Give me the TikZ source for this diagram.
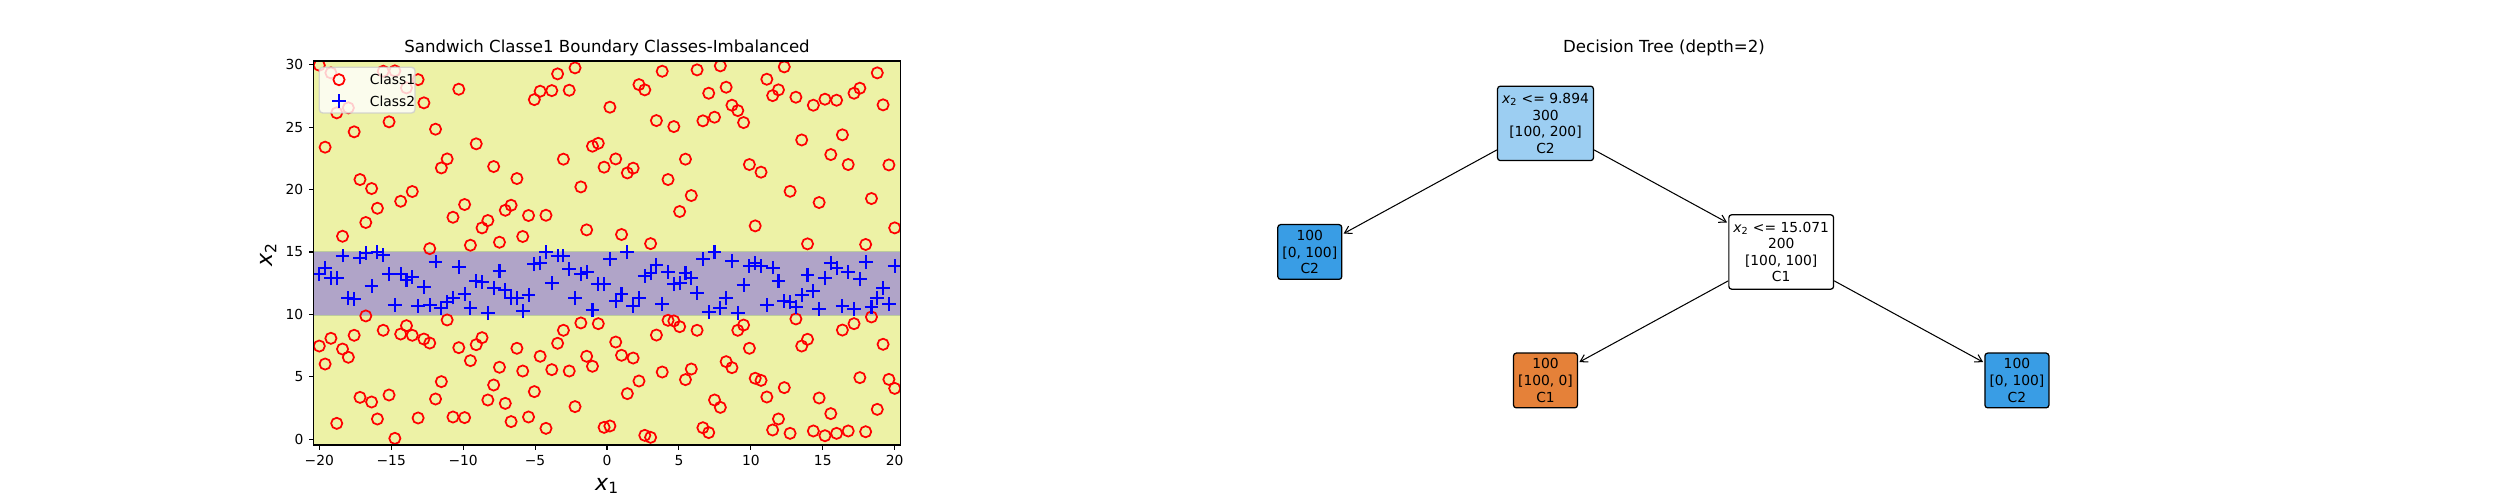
\documentclass[tikz,border=0pt]{standalone}
\usepackage{fontspec}
\setmainfont{DejaVu Sans}
\usepackage{tikz}
\usetikzlibrary{positioning,arrows.meta}
\definecolor{bgyellow}{HTML}{EDF2A6}
\definecolor{bandpurple}{HTML}{B0A4C8}
\definecolor{bandedge}{HTML}{BCCB9C}
\definecolor{rootblue}{HTML}{9CCEF2}
\definecolor{leafblue}{HTML}{399DE5}
\definecolor{leaforange}{HTML}{E58139}
\newcommand{\xsub}[1]{\textit{x}\textsubscript{#1}}
\newcommand{\tenpt}{\fontsize{10}{12}\selectfont}

\begin{document}
\begin{tikzpicture}[x=0.254mm, y=0.254mm,
    classone/.style={red, line width=1.25pt},
    classtwo/.style={blue, line width=1.5pt},
    axtick/.style={line width=0.8pt},
    ticklab/.style={inner sep=0pt, font=\tenpt},
    treebox/.style={draw, rounded corners=2pt, line width=0.9pt, align=center, inner xsep=3.3pt, font=\tenpt},
    splitnode/.style={treebox, inner ysep=5.1pt},
    leafnode/.style={treebox, inner ysep=4pt},
    treearrow/.style={-{Straight Barb[length=5pt,width=6pt]}, line width=0.75pt, shorten >=1pt}]

                    \fill[white] (0,0) rectangle (2500,500);

                    \begin{scope}[shift={(607,60.65)}, x=3.6538mm, y=3.1725mm]
                      \begin{scope}
                        \clip (-20.4,-0.45) rectangle (20.4,30.29);
                        \fill[bgyellow] (-20.4,-0.45) rectangle (20.4,30.29);
                        \fill[bandpurple] (-20.4,9.894) rectangle (20.4,15.071);
                        \draw[bandedge, line width=0.5pt] (-20.4,9.894) -- (20.4,9.894) (-20.4,15.071) -- (20.4,15.071);

                        \foreach \y [count=\i from 0] in {7.47,6.03,8.09,1.28,7.23,6.57,8.33,3.36,9.88,2.99,1.63,8.73,3.55,0.08,8.43,9.1,8.33,1.71,8.03,7.71,3.23,4.62,9.56,1.79,7.34,1.74,6.3,7.58,8.14,3.15,4.35,5.77,2.88,1.42,7.29,5.47,1.79,3.82,6.65,0.88,5.58,7.69,8.73,5.47,2.62,9.32,6.65,5.85,9.26,0.96,1.07,7.79,6.73,3.66,6.51,4.67,0.32,0.16,8.35,5.39,9.53,9.48,9.02,4.78,5.63,8.73,0.93,0.54,3.15,2.56,6.22,5.74,8.73,9.15,7.29,4.89,4.72,3.39,0.75,1.63,4.14,0.48,9.64,7.47,8.01,0.67,3.31,0.29,2.06,0.48,8.75,0.67,9.26,4.94,0.61,9.8,2.4,7.61,4.8,4.08}
                          \draw[classone] ({-20+40*\i/99},\y) circle[radius=1.42mm];

                        \foreach \y [count=\i from 0] in {29.95,23.39,29.34,26.14,16.26,26.54,24.62,20.8,17.36,20.08,18.5,29.47,25.42,29.5,19.06,28.14,19.84,28.8,26.94,15.27,24.83,21.73,22.45,17.78,28.03,18.8,15.54,23.66,16.93,17.52,21.84,15.78,18.34,18.74,20.88,16.24,17.92,27.2,27.87,17.94,27.92,29.26,22.43,27.95,29.74,20.21,16.77,23.47,23.7,21.79,26.59,22.45,16.4,21.33,21.71,28.4,27.98,15.67,25.52,29.47,20.8,25.04,18.24,22.43,19.52,29.58,25.5,27.71,25.79,29.9,28.19,26.75,26.32,25.36,22.0,17.09,21.39,28.83,27.52,27.98,29.82,19.86,27.39,23.97,15.65,26.75,18.96,27.23,22.8,27.15,24.38,22.0,27.71,28.11,15.6,19.28,29.34,26.78,21.97,16.93}
                          \draw[classone] ({-20+40*\i/99},\y) circle[radius=1.42mm];

                        \foreach \y [count=\i from 0] in {13.21,13.69,12.89,12.89,14.71,11.29,11.24,14.55,14.95,12.3,14.97,14.76,13.21,10.76,13.21,12.76,13.0,10.7,12.2,10.76,14.23,10.54,10.97,11.35,13.77,11.61,10.49,12.68,12.57,10.09,12.09,13.5,11.96,11.29,11.29,10.28,11.56,14.01,14.09,14.97,12.49,14.71,14.71,13.64,11.29,13.21,13.42,10.36,12.41,12.41,14.44,11.08,11.61,14.97,10.68,11.29,13.1,13.3,13.96,10.81,13.42,12.41,12.49,13.29,12.89,11.74,14.44,10.22,14.97,10.54,11.29,14.28,10.14,12.36,13.9,14.09,13.9,10.76,13.75,12.68,11.08,10.97,10.62,11.56,13.16,11.88,10.44,12.89,14.09,13.69,10.7,13.42,10.44,12.81,14.17,10.62,11.29,12.09,10.81,13.9}
                          \draw[classtwo] ({-20+40*\i/99},\y) +(-1.75mm,0) -- +(1.75mm,0) +(0,-1.75mm) -- +(0,1.75mm);
                      \end{scope}

                      \draw[line width=0.8pt] (-20.4,-0.45) rectangle (20.4,30.29);

                      \foreach \t/\lab in {-20/−20,-15/−15,-10/−10,-5/−5,0/0,5/5,10/10,15/15,20/20}
                        \draw[axtick] (\t,-0.45) -- ++(0,-1.23mm) node[ticklab, below=1.23mm] (xtick\t) {\lab};

                      \foreach \t in {0,5,...,30}
                        \draw[axtick] (-20.4,\t) -- ++(-1.23mm,0) node[ticklab, left=1.23mm] (ytick\t) {\t};
                    \end{scope}

                    \node[font=\fontsize{12}{14}\selectfont, anchor=base] (plottitle) at (607,447.7) {Sandwich Classe1 Boundary Classes-Imbalanced};

                    \node[font=\fontsize{16}{19}\selectfont] (xlabel) at (607,14) {\xsub{1}};

                    \node[font=\fontsize{16}{19}\selectfont, rotate=90] (ylabel) at (268.5,245.5) {\xsub{2}};

                    \draw[draw=black!20, draw opacity=0.8, fill=white, fill opacity=0.8, rounded corners=2.5pt, line width=1pt] (319.3,387) rectangle (415,432.7);
                    \draw[classone] (339,420.3) circle[radius=1.42mm];
                    \draw[classtwo] (339,398.7) +(-1.75mm,0) -- +(1.75mm,0) +(0,-1.75mm) -- +(0,1.75mm);
                    \node[anchor=west, font=\tenpt] (legone) at (365,420.3) {Class1};
                    \node[anchor=west, font=\tenpt] (legtwo) at (365,398.7) {Class2};

                    \node[font=\fontsize{12}{14}\selectfont, anchor=base] (treetitle) at (1664,447.7) {Decision Tree (depth=2)};

                    \node[splitnode, fill=rootblue] (root) at (1545.5,376.6) {\xsub{2} <= 9.894\\300\\{[100, 200]}\\C2};
                    \node[leafnode, fill=leafblue] (leftleaf) at (1309.8,248) {100\\{[0, 100]}\\C2};
                    \node[splitnode, fill=white] (midsplit) at (1781.2,248) {\xsub{2} <= 15.071\\200\\{[100, 100]}\\C1};
                    \node[leafnode, fill=leaforange] (midleaf) at (1545.5,119.5) {100\\{[100, 0]}\\C1};
                    \node[leafnode, fill=leafblue] (rightleaf) at (2016.9,119.5) {100\\{[0, 100]}\\C2};

                    \draw[treearrow] (root) -- (leftleaf);
                    \draw[treearrow] (root) -- (midsplit);
                    \draw[treearrow] (midsplit) -- (midleaf);
                    \draw[treearrow] (midsplit) -- (rightleaf);

\end{tikzpicture}
\end{document}
